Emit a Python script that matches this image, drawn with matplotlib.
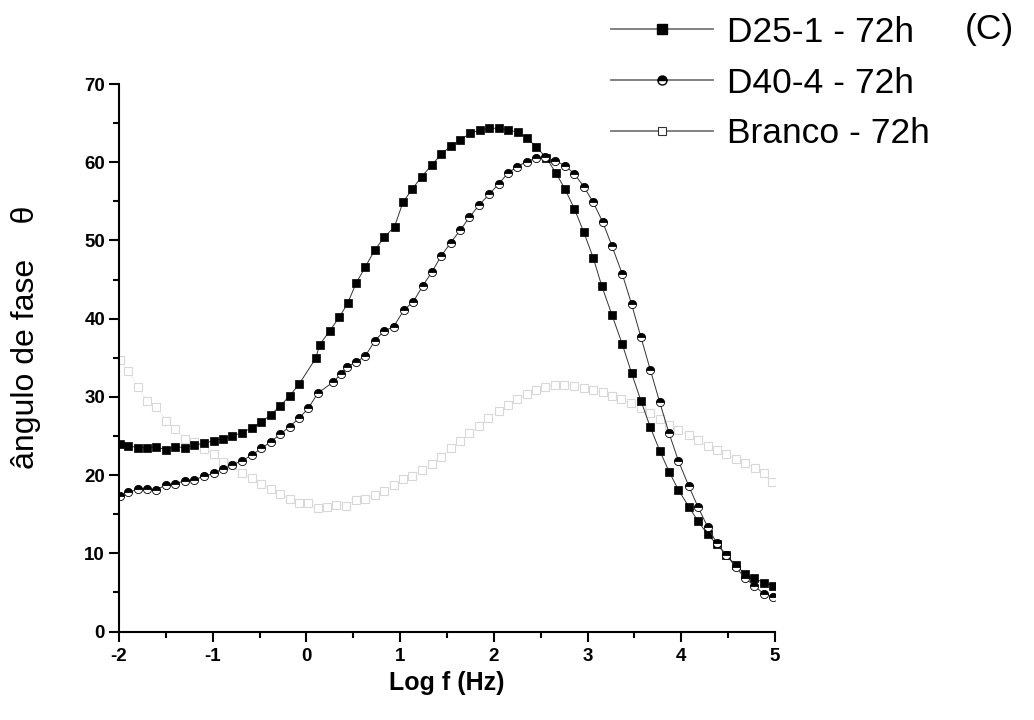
import numpy as np
import matplotlib
matplotlib.use('Agg')
from matplotlib import pyplot as plt
from matplotlib.lines import Line2D
from matplotlib.ticker import MultipleLocator

plt.rcParams['font.family'] = ['Liberation Sans', 'DejaVu Sans']
plt.rcParams['axes.unicode_minus'] = False

# D25-1 - 72h (filled squares)
d25_x = [-1.99, -1.90, -1.80, -1.70, -1.60, -1.50, -1.40, -1.30, -1.20, -1.09,
         -0.99, -0.89, -0.79, -0.69, -0.58, -0.48, -0.38, -0.28, -0.18, -0.08,
         0.10, 0.14, 0.25, 0.35, 0.44, 0.53, 0.63, 0.73, 0.83, 0.94,
         1.03, 1.13, 1.23, 1.34, 1.44, 1.54, 1.64, 1.75, 1.85, 1.95,
         2.05, 2.15, 2.26, 2.35, 2.45, 2.56, 2.66, 2.76, 2.86, 2.96,
         3.06, 3.15, 3.26, 3.37, 3.47, 3.57, 3.67, 3.77, 3.87, 3.97,
         4.08, 4.18, 4.28, 4.38, 4.48, 4.58, 4.68, 4.78, 4.88, 4.98]
d25_y = [23.94, 23.76, 23.50, 23.50, 23.63, 23.21, 23.63, 23.50, 23.85, 24.07,
         24.40, 24.65, 25.00, 25.42, 26.06, 26.79, 27.72, 28.84, 30.12, 31.61,
         34.94, 36.64, 38.47, 40.18, 41.97, 44.53, 46.65, 48.79, 50.40, 51.77,
         54.88, 56.59, 58.16, 59.69, 61.02, 62.08, 62.85, 63.71, 64.13, 64.35,
         64.35, 64.13, 63.84, 63.10, 62.00, 60.55, 58.67, 56.55, 54.03, 51.05,
         47.80, 44.23, 40.48, 36.76, 33.02, 29.48, 26.11, 23.12, 20.44, 18.09,
         15.96, 14.09, 12.43, 11.15, 9.78, 8.50, 7.35, 6.80, 6.24, 5.86]

# D40-4 - 72h (half filled circles)
d40_x = [-1.99, -1.90, -1.80, -1.70, -1.60, -1.50, -1.40, -1.30, -1.20, -1.09,
         -0.99, -0.89, -0.79, -0.69, -0.58, -0.48, -0.38, -0.28, -0.18, -0.08,
         0.02, 0.12, 0.28, 0.37, 0.43, 0.53, 0.63, 0.73, 0.83, 0.93,
         1.04, 1.14, 1.24, 1.34, 1.44, 1.54, 1.64, 1.74, 1.84, 1.95,
         2.05, 2.15, 2.25, 2.35, 2.45, 2.55, 2.65, 2.76, 2.86, 2.96,
         3.06, 3.16, 3.26, 3.37, 3.47, 3.57, 3.67, 3.77, 3.87, 3.97,
         4.08, 4.18, 4.28, 4.38, 4.48, 4.58, 4.68, 4.78, 4.88, 4.98]
d40_y = [17.37, 17.80, 18.18, 18.22, 18.13, 18.73, 18.90, 19.28, 19.41, 19.85,
         20.23, 20.82, 21.29, 21.84, 22.57, 23.43, 24.27, 25.22, 26.19, 27.26,
         28.54, 30.46, 31.85, 32.92, 33.86, 34.42, 35.26, 37.17, 38.45, 38.96,
         41.10, 42.16, 44.17, 46.00, 48.05, 49.72, 51.30, 52.97, 54.50, 55.90,
         57.22, 58.60, 59.45, 60.08, 60.51, 60.64, 60.20, 59.57, 58.50, 56.88,
         54.88, 52.40, 49.30, 45.72, 41.84, 37.62, 33.44, 29.31, 25.34, 21.80,
         18.60, 15.88, 13.40, 11.28, 9.78, 8.29, 6.80, 5.86, 4.80, 4.45]

# Branco - 72h (open squares, light grey)
br_x = [-1.99, -1.90, -1.80, -1.70, -1.60, -1.50, -1.40, -1.30, -1.20, -1.09,
        -0.99, -0.89, -0.79, -0.69, -0.58, -0.48, -0.38, -0.28, -0.18, -0.08,
        0.02, 0.12, 0.22, 0.32, 0.42, 0.53, 0.63, 0.73, 0.83, 0.93,
        1.03, 1.13, 1.23, 1.34, 1.44, 1.54, 1.64, 1.74, 1.84, 1.94,
        2.05, 2.15, 2.25, 2.35, 2.45, 2.55, 2.65, 2.75, 2.86, 2.96,
        3.06, 3.16, 3.26, 3.36, 3.46, 3.57, 3.67, 3.77, 3.87, 3.97,
        4.08, 4.18, 4.28, 4.38, 4.48, 4.58, 4.68, 4.79, 4.88, 4.97]
br_y = [34.70, 33.30, 31.24, 29.50, 28.71, 26.96, 25.87, 24.67, 24.23, 23.31,
        22.76, 21.71, 21.27, 20.33, 19.63, 18.86, 18.20, 17.58, 16.94, 16.47,
        16.47, 15.79, 15.88, 16.14, 16.05, 16.80, 17.00, 17.40, 18.00, 18.70,
        19.50, 19.88, 20.65, 21.42, 22.35, 23.43, 24.36, 25.42, 26.32, 27.26,
        28.20, 28.96, 29.73, 30.37, 30.88, 31.30, 31.52, 31.52, 31.39, 31.18,
        30.88, 30.59, 30.12, 29.69, 29.18, 28.54, 27.90, 27.14, 26.41, 25.77,
        25.13, 24.49, 23.72, 23.21, 22.66, 22.06, 21.51, 20.87, 20.23, 19.16]

labels = ['D25-1 - 72h', 'D40-4 - 72h', 'Branco - 72h']

fig = plt.figure(figsize=(10.34, 7.2), dpi=100)
ax = fig.add_axes([0.1151, 0.1229, 0.6344, 0.7604])

ax.plot(br_x, br_y, '-', color='#eeeeee', lw=0.6, marker='s', ms=5.2,
        mfc='white', mec='#d8d8d8', mew=0.8)
ax.plot(d25_x, d25_y, '-', color='#333333', lw=0.7, marker='s', ms=5.6,
        mfc='black', mec='black', mew=0.5)
ax.plot(d40_x, d40_y, '-', color='#333333', lw=0.7, marker='o', ms=5.9,
        fillstyle='top', mfc='black', markerfacecoloralt='white',
        mec='black', mew=0.6)

ax.set_xlim(-2, 5)
ax.set_ylim(0, 70)
ax.xaxis.set_major_locator(MultipleLocator(1))
ax.xaxis.set_minor_locator(MultipleLocator(0.5))
ax.yaxis.set_major_locator(MultipleLocator(10))
ax.yaxis.set_minor_locator(MultipleLocator(5))
ax.spines['right'].set_visible(False)
ax.spines['top'].set_visible(False)
for s in ['left', 'bottom']:
    ax.spines[s].set_linewidth(1.5)
ax.tick_params(which='major', direction='out', length=7, width=1.5, pad=3)
ax.tick_params(which='minor', direction='out', length=4, width=1.5)
ax.tick_params(axis='x', which='major', pad=5)
for t in ax.get_xticklabels() + ax.get_yticklabels():
    t.set_fontsize(13.5)
    t.set_fontweight('bold')

ax.set_xlabel('Log f (Hz)', fontsize=18, fontweight='bold', labelpad=4)
fig.text(0.025, 0.531, 'ângulo de fase    θ', rotation=90, fontsize=23,
         ha='center', va='center')

handles = [
    Line2D([], [], color='#777777', lw=1.3, marker='s', ms=6.5, mfc='black', mec='black'),
    Line2D([], [], color='#777777', lw=1.3, marker='o', ms=6.5, fillstyle='top',
           mfc='black', markerfacecoloralt='white', mec='black'),
    Line2D([], [], color='#777777', lw=1.3, marker='s', ms=5.8, mfc='white',
           mec='#333333', mew=0.8),
]
fig.legend(handles, labels, loc='upper left', bbox_to_anchor=(0.591, 0.978),
           frameon=False, fontsize=25.5, handlelength=2.88, handletextpad=0.4,
           labelspacing=0.5, borderpad=0, borderaxespad=0, numpoints=1)
fig.text(0.933, 1 - 29 / 720, '(C)', fontsize=25.5, ha='left', va='center')

fig.savefig('out.png', dpi=100)
